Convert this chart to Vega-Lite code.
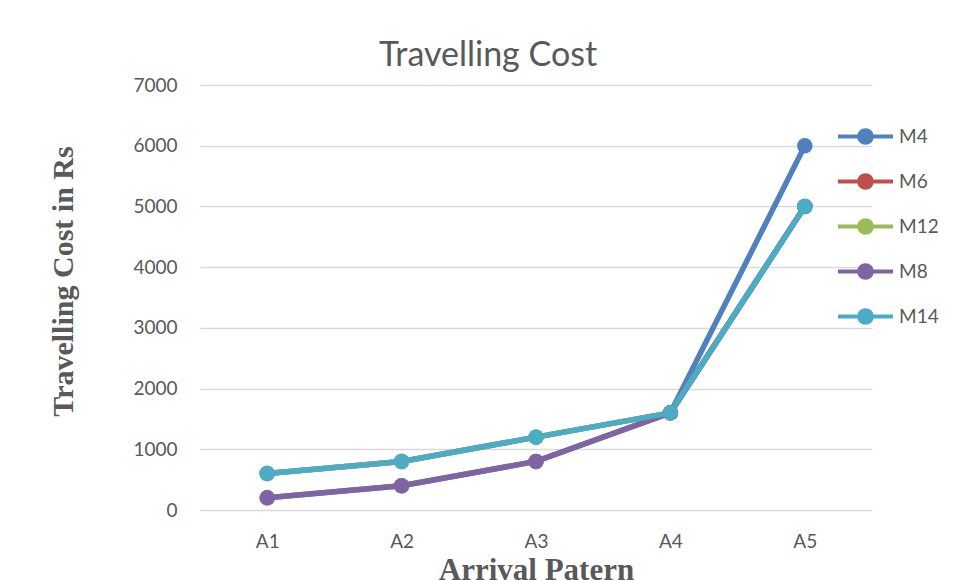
{
  "$schema": "https://vega.github.io/schema/vega-lite/v6.json",
  "autosize": "none",
  "width": 672,
  "height": 425,
  "padding": {"left": 200, "top": 85, "right": 83, "bottom": 70},
  "background": "white",
  "title": {
    "text": "Travelling Cost",
    "font": "Lato",
    "fontSize": 34,
    "fontWeight": "normal",
    "color": "#595959",
    "anchor": "middle",
    "dx": -48,
    "offset": 3
  },
  "data": {
    "values": [
      {"pattern": "A1", "series": "M4", "cost": 200},
      {"pattern": "A2", "series": "M4", "cost": 400},
      {"pattern": "A3", "series": "M4", "cost": 800},
      {"pattern": "A4", "series": "M4", "cost": 1600},
      {"pattern": "A5", "series": "M4", "cost": 6000},
      {"pattern": "A1", "series": "M6", "cost": 600},
      {"pattern": "A2", "series": "M6", "cost": 800},
      {"pattern": "A3", "series": "M6", "cost": 1200},
      {"pattern": "A4", "series": "M6", "cost": 1600},
      {"pattern": "A5", "series": "M6", "cost": 5000},
      {"pattern": "A1", "series": "M12", "cost": 600},
      {"pattern": "A2", "series": "M12", "cost": 800},
      {"pattern": "A3", "series": "M12", "cost": 1200},
      {"pattern": "A4", "series": "M12", "cost": 1600},
      {"pattern": "A5", "series": "M12", "cost": 5000},
      {"pattern": "A1", "series": "M8", "cost": 200},
      {"pattern": "A2", "series": "M8", "cost": 400},
      {"pattern": "A3", "series": "M8", "cost": 800},
      {"pattern": "A4", "series": "M8", "cost": 1600},
      {"pattern": "A5", "series": "M8", "cost": 5000},
      {"pattern": "A1", "series": "M14", "cost": 600},
      {"pattern": "A2", "series": "M14", "cost": 800},
      {"pattern": "A3", "series": "M14", "cost": 1200},
      {"pattern": "A4", "series": "M14", "cost": 1600},
      {"pattern": "A5", "series": "M14", "cost": 5000}
    ]
  },
  "encoding": {
    "x": {
      "field": "pattern",
      "type": "ordinal",
      "scale": {"type": "point", "padding": 0.5},
      "axis": {
        "title": "Arrival Patern",
        "titleFont": "Liberation Serif",
        "titleFontSize": 31,
        "titleFontWeight": "bold",
        "titleColor": "#595959",
        "titleBaseline": "alphabetic",
        "titleY": 69,
        "labelAngle": 0,
        "labelFont": "Lato",
        "labelFontSize": 19,
        "labelColor": "#595959",
        "labelBaseline": "middle",
        "labelPadding": 31,
        "ticks": false,
        "domain": false,
        "grid": false
      }
    },
    "y": {
      "field": "cost",
      "type": "quantitative",
      "scale": {"domain": [0, 7000], "nice": false},
      "axis": {
        "title": "Travelling Cost in Rs",
        "titleFont": "Liberation Serif",
        "titleFontSize": 30,
        "titleFontWeight": "bold",
        "titleColor": "#595959",
        "titleAngle": 270,
        "titleAlign": "center",
        "titleBaseline": "middle",
        "titleX": -137,
        "titleY": 196,
        "values": [0, 1000, 2000, 3000, 4000, 5000, 6000, 7000],
        "format": "d",
        "labelFont": "Lato",
        "labelFontSize": 19,
        "labelColor": "#595959",
        "labelPadding": 23,
        "ticks": false,
        "domain": false,
        "grid": true,
        "gridColor": "#d9d9d9",
        "gridWidth": 1.5
      }
    },
    "color": {
      "field": "series",
      "type": "nominal",
      "sort": ["M4", "M6", "M12", "M8", "M14"],
      "scale": {
        "domain": ["M4", "M6", "M12", "M8", "M14"],
        "range": ["#4F81BD", "#C0504D", "#9BBB59", "#8064A2", "#4BACC6"]
      },
      "legend": {
        "title": null,
        "orient": "none",
        "legendX": 636,
        "legendY": 22,
        "padding": 0,
        "symbolType": "M-1,0H1M0.23,0A0.23,0.23,0,1,1,-0.23,0A0.23,0.23,0,1,1,0.23,0Z",
        "symbolSize": 3025,
        "symbolStrokeWidth": 4,
        "labelFont": "Lato",
        "labelFontSize": 19,
        "labelColor": "#595959",
        "labelOffset": 4,
        "rowPadding": 1,
        "encode": {
          "symbols": {
            "update": {
              "fill": {"scale": "color", "field": "value"},
              "stroke": {"scale": "color", "field": "value"},
              "strokeWidth": {"value": 4},
              "opacity": {"value": 1}
            }
          }
        }
      }
    }
  },
  "layer": [
    {"mark": {"type": "line", "strokeWidth": 5.5}},
    {"mark": {"type": "point", "filled": true, "size": 240, "opacity": 1}}
  ],
  "config": {
    "view": {"stroke": null}
  }
}
